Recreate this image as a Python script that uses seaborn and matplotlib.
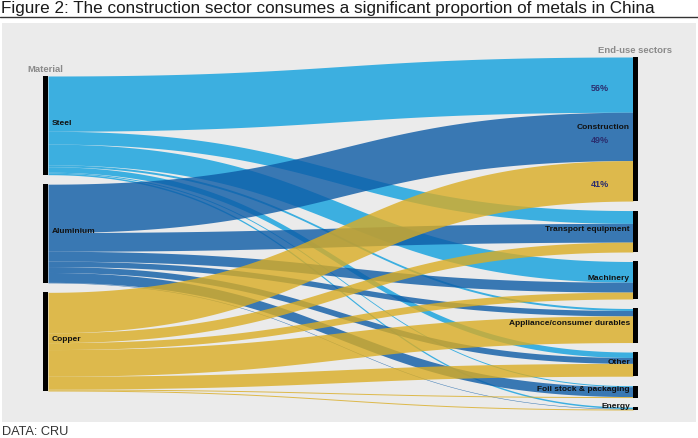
import numpy as np
import matplotlib
matplotlib.use("Agg")
import matplotlib.pyplot as plt
from matplotlib.patches import Rectangle
from matplotlib.lines import Line2D
import seaborn as sns

# ---------------- data ----------------
materials = ["Steel", "Aluminium", "Copper"]
sectors = ["Construction", "Transport equipment", "Machinery",
           "Appliance/consumer durables", "Other", "Foil stock & packaging", "Energy"]
# share (%) of each material going to each end-use sector
steel_shares = [56, 13, 21, 2, 5.5, 1, 1.5]
aluminium_shares = [49, 19, 10, 5.5, 6, 10, 0.5]
copper_shares = [41, 10, 7, 27, 13, 1, 1]
construction_labels = ["56%", "49%", "41%"]

title = "Figure 2: The construction sector consumes a significant proportion of metals in China"
source = "DATA: CRU"

# ---------------- style ----------------
sns.set_theme(style="white")
plt.rcParams["font.family"] = ["Liberation Sans", "DejaVu Sans"]

colors = ["#10a0de", "#0d5ba6", "#daad24"]
flow_alpha = 0.8
panel_color = "#ebebeb"

W, H = 698, 438
fig = plt.figure(figsize=(W / 100, H / 100), dpi=100)
fig.patch.set_facecolor("white")

# pixel geometry
px_per_unit = 0.9867
gap_px = 9.5
gap = gap_px / px_per_unit
x_left_px, x_right_px = 48, 633       # inner edges of node bars
bar_w_px = 5
top_right_px = 57

ax = fig.add_axes([0, 0, 1, 1])
span = x_right_px - x_left_px
ax.set_xlim(-x_left_px / span, (W - x_left_px) / span)
ax.set_ylim((H - top_right_px) / px_per_unit, -top_right_px / px_per_unit)
ax.axis("off")
ax.patch.set_alpha(0)

# background panel and title rule (figure pixel coords)
fig.patches.append(Rectangle((2 / W, 1 - 422 / H), 694 / W, (422 - 23) / H,
                             transform=fig.transFigure, facecolor=panel_color,
                             edgecolor="none", zorder=-10))
fig.lines.append(Line2D([0, 1], [1 - 16.7 / H] * 2, transform=fig.transFigure,
                        color="#333333", lw=1.0))
fig.text(1 / W, 1 - 8.5 / H, title, fontsize=12.3, color="#1a1a1a", va="center", ha="left")
fig.text(2 / W, 1 - 432 / H, source, fontsize=9.2, color="#333333", va="center", ha="left")

flows = np.array([steel_shares, aluminium_shares, copper_shares], dtype=float)
mat_tot = flows.sum(axis=1)
sec_tot = flows.sum(axis=0)

right_height = sec_tot.sum() + gap * (len(sectors) - 1)
left_height = mat_tot.sum() + gap * (len(materials) - 1)
left_top = (right_height - left_height) / 2

left_y = left_top + np.concatenate([[0], np.cumsum(mat_tot + gap)[:-1]])
right_y = np.concatenate([[0], np.cumsum(sec_tot + gap)[:-1]])

bw = bar_w_px / span
# node bars
for i, m in enumerate(materials):
    ax.add_patch(Rectangle((-bw, left_y[i]), bw, mat_tot[i], color="black", lw=0, zorder=5))
    ax.text(4 / span, left_y[i] + mat_tot[i] / 2 - 2, m, fontsize=6, fontweight="bold",
            color="#111111", ha="left", va="center", zorder=6)
for j, s in enumerate(sectors):
    ax.add_patch(Rectangle((1, right_y[j]), bw, sec_tot[j], color="black", lw=0, zorder=5))
    ax.text(1 - 3 / span, right_y[j] + sec_tot[j] / 2 - 2, s, fontsize=6, fontweight="bold",
            color="#111111", ha="right", va="center", zorder=6)

ax.text(-bw / 2, left_y[0] - 6.5, "Material", fontsize=6.8, fontweight="bold",
        color="#8a8a8a", ha="center", va="center")
ax.text(1 + bw / 2, right_y[0] - 7, "End-use sectors", fontsize=6.8, fontweight="bold",
        color="#8a8a8a", ha="center", va="center")

# ribbons
t = np.linspace(0, 1, 300)
xt = 1.5 * t * (1 - t) + t ** 3
h0 = (1 - t) ** 2 * (1 + 2 * t)
h1 = t ** 2 * (3 - 2 * t)

src_off = left_y.copy()
dst_off = right_y.copy()
link_pos = {}
for i in range(len(materials)):
    for j in range(len(sectors)):
        w = flows[i, j]
        ya = src_off[i]
        yb = dst_off[j]
        src_off[i] += w
        dst_off[j] += w
        link_pos[(i, j)] = (ya, yb, w)
for i in range(len(materials)):
    for j in range(len(sectors)):
        ya, yb, w = link_pos[(i, j)]
        ytop = ya * h0 + yb * h1
        ax.fill_between(xt, ytop, ytop + w, color=colors[i], alpha=flow_alpha,
                        lw=0, zorder=2)

# construction percentage labels
for i, lab in enumerate(construction_labels):
    ya, yb, w = link_pos[(i, 0)]
    ax.text((600 - x_left_px) / span, yb + w / 2 + 4, lab, fontsize=6.5, fontweight="bold",
            color="#2b2d6e", ha="center", va="center", zorder=6)

fig.savefig("out.png", dpi=100)
